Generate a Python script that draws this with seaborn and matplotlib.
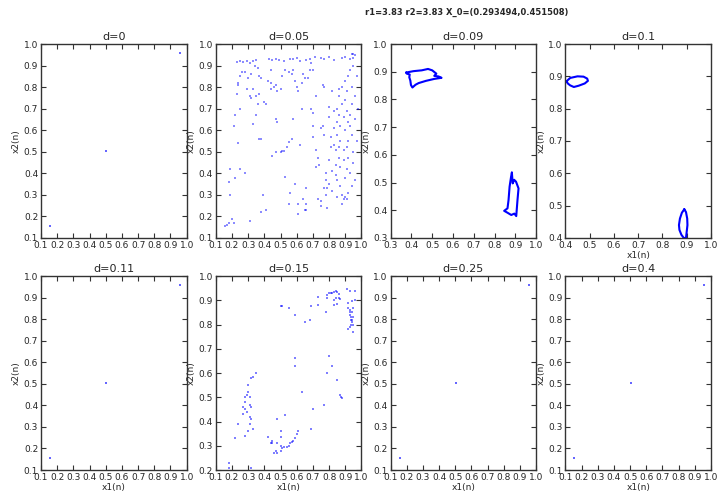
import numpy as np
import pandas as pd
import seaborn as sns
import matplotlib
matplotlib.use("Agg")
import matplotlib.pyplot as plt
from matplotlib.ticker import MultipleLocator, FormatStrFormatter

# period-3 orbit (synchronised cases)
sync_x = [0.156, 0.504, 0.957]
sync_y = [0.156, 0.504, 0.957]

# d=0.05 scattered points
d005_x = [0.23, 0.25, 0.27, 0.29, 0.31, 0.33, 0.35, 0.43, 0.45, 0.47, 0.49, 0.52, 0.56, 0.58,
          0.60, 0.62, 0.66, 0.68, 0.71, 0.75, 0.77, 0.80, 0.83, 0.88, 0.90, 0.93, 0.95,
          0.94, 0.95, 0.96,
          0.16, 0.17, 0.18, 0.20, 0.19, 0.18, 0.19, 0.21, 0.22, 0.24, 0.23, 0.24, 0.24, 0.25,
          0.26, 0.28, 0.25, 0.28, 0.25, 0.22, 0.21,
          0.31, 0.38, 0.39, 0.41, 0.33, 0.35, 0.36, 0.37, 0.38, 0.29, 0.31, 0.32, 0.33, 0.35,
          0.37, 0.37, 0.38, 0.30, 0.32, 0.34, 0.36, 0.40, 0.41, 0.42, 0.44, 0.44, 0.44, 0.46,
          0.47, 0.48, 0.47, 0.48, 0.45, 0.47, 0.50, 0.51, 0.52, 0.53, 0.54, 0.55, 0.56, 0.55,
          0.58, 0.57, 0.59, 0.61, 0.61, 0.62, 0.63, 0.64, 0.65, 0.66, 0.66, 0.66,
          0.50, 0.51, 0.53, 0.55, 0.57, 0.58, 0.59, 0.60, 0.61, 0.63, 0.64, 0.65, 0.67, 0.68,
          0.69, 0.70, 0.69, 0.70, 0.70, 0.70, 0.72, 0.72, 0.73, 0.74, 0.72, 0.73, 0.75, 0.75,
          0.76, 0.76, 0.77, 0.77, 0.77, 0.75, 0.78, 0.78, 0.78, 0.79, 0.79, 0.80, 0.80, 0.80,
          0.80, 0.81, 0.81, 0.82, 0.82, 0.82, 0.83, 0.83, 0.83, 0.84, 0.84, 0.84, 0.85, 0.85,
          0.85, 0.85, 0.85, 0.86, 0.86, 0.86, 0.86, 0.86, 0.87, 0.87, 0.87, 0.87, 0.88, 0.88,
          0.88, 0.88, 0.89, 0.89, 0.89, 0.89, 0.90, 0.90, 0.90, 0.90, 0.90, 0.91, 0.91, 0.91,
          0.91, 0.91, 0.92, 0.92, 0.92, 0.92, 0.92, 0.93, 0.93, 0.93, 0.93, 0.94, 0.94, 0.94,
          0.94, 0.95, 0.95, 0.95, 0.96, 0.96, 0.96, 0.97, 0.97, 0.98]
d005_y = [0.918, 0.92, 0.915, 0.92, 0.91, 0.92, 0.925, 0.93, 0.925, 0.93, 0.925, 0.92, 0.93, 0.93,
          0.935, 0.92, 0.925, 0.93, 0.94, 0.935, 0.93, 0.94, 0.925, 0.935, 0.94, 0.93, 0.935,
          0.955, 0.955, 0.95,
          0.155, 0.16, 0.17, 0.19, 0.30, 0.36, 0.42, 0.62, 0.67, 0.54, 0.77, 0.81, 0.82, 0.85,
          0.87, 0.87, 0.70, 0.40, 0.42, 0.38, 0.17,
          0.18, 0.22, 0.30, 0.23, 0.63, 0.67, 0.72, 0.56, 0.56, 0.79, 0.76, 0.75, 0.79, 0.76,
          0.77, 0.85, 0.84, 0.84, 0.86, 0.90, 0.89, 0.73, 0.72, 0.83, 0.82, 0.79, 0.88, 0.80,
          0.81, 0.78, 0.65, 0.64, 0.48, 0.50, 0.50, 0.505, 0.505, 0.385, 0.52, 0.545, 0.31, 0.26,
          0.65, 0.56, 0.35, 0.21, 0.26, 0.53, 0.70, 0.28, 0.23, 0.23, 0.33, 0.26,
          0.79, 0.85, 0.88, 0.87, 0.86, 0.88, 0.83, 0.80, 0.78, 0.82, 0.86, 0.84, 0.84, 0.88,
          0.91, 0.88, 0.70, 0.68, 0.57, 0.62, 0.76, 0.51, 0.47, 0.44, 0.43, 0.28, 0.27, 0.61,
          0.62, 0.81, 0.80, 0.58, 0.33, 0.25, 0.40, 0.37, 0.30, 0.24, 0.33, 0.35, 0.46, 0.71,
          0.66, 0.52, 0.57, 0.41, 0.32, 0.78, 0.69, 0.61, 0.53, 0.51, 0.44, 0.39, 0.29, 0.37,
          0.58, 0.64, 0.70, 0.76, 0.79, 0.67, 0.52, 0.47, 0.34, 0.43, 0.55, 0.62, 0.26, 0.30,
          0.72, 0.80, 0.46, 0.51, 0.66, 0.28, 0.29, 0.38, 0.60, 0.74, 0.83, 0.28, 0.42, 0.52,
          0.69, 0.78, 0.31, 0.47, 0.55, 0.64, 0.85, 0.62, 0.67, 0.40, 0.88, 0.34, 0.58, 0.72,
          0.80, 0.45, 0.50, 0.90, 0.65, 0.37, 0.76, 0.55, 0.85, 0.70]

# d=0.15 scattered points
d015_x = [0.27, 0.27, 0.28, 0.28, 0.29, 0.30, 0.30, 0.31, 0.31, 0.32, 0.31, 0.31, 0.32, 0.30,
          0.33, 0.32, 0.33, 0.35, 0.28, 0.24, 0.22, 0.18, 0.18, 0.32, 0.29, 0.28,
          0.42, 0.44, 0.45, 0.46, 0.47, 0.48, 0.48, 0.50, 0.50, 0.51, 0.52, 0.54, 0.55, 0.56,
          0.57, 0.58, 0.59, 0.60, 0.61, 0.50, 0.50, 0.53, 0.48, 0.45,
          0.59, 0.59, 0.63, 0.70, 0.69, 0.77, 0.79, 0.80, 0.82, 0.85, 0.87, 0.875, 0.88,
          0.50, 0.51, 0.55, 0.59, 0.65, 0.68, 0.69, 0.73, 0.73, 0.78, 0.79, 0.79, 0.80, 0.81,
          0.82, 0.83, 0.84, 0.85, 0.86, 0.84, 0.83, 0.86, 0.87, 0.83, 0.85, 0.91, 0.93, 0.92,
          0.92, 0.93, 0.93, 0.935, 0.94, 0.94, 0.93, 0.92, 0.94, 0.94, 0.96, 0.96, 0.95, 0.95,
          0.95, 0.945, 0.935, 0.935, 0.93]
d015_y = [0.43, 0.46, 0.48, 0.50, 0.51, 0.52, 0.55, 0.50, 0.47, 0.46, 0.42, 0.39, 0.41, 0.36,
          0.37, 0.58, 0.585, 0.60, 0.34, 0.39, 0.33, 0.23, 0.21, 0.21, 0.44, 0.45,
          0.335, 0.31, 0.32, 0.27, 0.28, 0.27, 0.31, 0.30, 0.28, 0.29, 0.295, 0.295, 0.30, 0.31,
          0.315, 0.32, 0.33, 0.35, 0.36, 0.335, 0.36, 0.425, 0.41, 0.31,
          0.66, 0.63, 0.52, 0.45, 0.37, 0.47, 0.60, 0.67, 0.63, 0.57, 0.51, 0.50, 0.495,
          0.875, 0.875, 0.87, 0.84, 0.81, 0.82, 0.875, 0.915, 0.88, 0.85, 0.91, 0.92, 0.93, 0.93,
          0.93, 0.935, 0.94, 0.935, 0.925, 0.91, 0.90, 0.91, 0.905, 0.88, 0.885, 0.945, 0.94, 0.89,
          0.87, 0.86, 0.84, 0.83, 0.82, 0.81, 0.79, 0.78, 0.85, 0.895, 0.94, 0.90, 0.87, 0.83,
          0.80, 0.77, 0.80, 0.82, 0.85]

# d=0.09 two closed curves
d009_a_x = [0.375, 0.41, 0.45, 0.48, 0.50, 0.52, 0.51, 0.53, 0.545, 0.51, 0.47, 0.435, 0.42,
            0.405, 0.398, 0.395, 0.39, 0.392, 0.378, 0.375]
d009_a_y = [0.897, 0.902, 0.905, 0.91, 0.905, 0.893, 0.885, 0.883, 0.878, 0.874, 0.867, 0.859,
            0.853, 0.843, 0.852, 0.868, 0.88, 0.89, 0.893, 0.897]
d009_b_x = [0.883, 0.887, 0.894, 0.903, 0.915, 0.91, 0.904, 0.895, 0.88, 0.86, 0.846, 0.862,
            0.867, 0.872, 0.879, 0.883]
d009_b_y = [0.536, 0.497, 0.51, 0.503, 0.479, 0.437, 0.379, 0.388, 0.383, 0.392, 0.398, 0.407,
            0.437, 0.485, 0.52, 0.536]

# d=0.1 two small loops
d010_a_x = [0.405, 0.42, 0.45, 0.475, 0.49, 0.493, 0.48, 0.455, 0.435, 0.42, 0.41, 0.405]
d010_a_y = [0.885, 0.895, 0.90, 0.899, 0.893, 0.886, 0.878, 0.871, 0.867, 0.872, 0.878, 0.885]
d010_b_x = [0.89, 0.897, 0.902, 0.903, 0.90, 0.897, 0.888, 0.878, 0.87, 0.868, 0.872, 0.88, 0.89]
d010_b_y = [0.489, 0.48, 0.46, 0.44, 0.42, 0.40, 0.40, 0.41, 0.425, 0.44, 0.46, 0.478, 0.489]

titles = ["d=0", "d=0.05", "d=0.09", "d=0.1", "d=0.11", "d=0.15", "d=0.25", "d=0.4"]
lows = [0.1, 0.1, 0.3, 0.4, 0.1, 0.1, 0.1, 0.1]
ylows = [0.1, 0.1, 0.3, 0.4, 0.1, 0.2, 0.1, 0.1]

sns.set_style("white", {"xtick.direction": "in", "ytick.direction": "in",
                        "xtick.top": True, "ytick.right": True,
                        "xtick.bottom": True, "ytick.left": True,
                        "axes.edgecolor": "#333333"})
plt.rcParams["font.family"] = ["DejaVu Sans"]
plt.rcParams["xtick.major.size"] = 3.5
plt.rcParams["ytick.major.size"] = 3.5

fig, axes = plt.subplots(2, 4, figsize=(7.17, 4.93), dpi=100)
plt.subplots_adjust(left=41 / 717, right=711 / 717, top=1 - 44 / 493, bottom=1 - 470 / 493,
                    wspace=0.2, hspace=0.196)
axes = axes.ravel()


def dots(ax, xs, ys, size, alpha):
    df = pd.DataFrame({"x1": xs, "x2": ys})
    sns.scatterplot(data=df, x="x1", y="x2", ax=ax, color="blue", marker="s",
                    s=size, linewidth=0, alpha=alpha)


def loop(ax, xs, ys):
    df = pd.DataFrame({"x1": xs, "x2": ys})
    sns.lineplot(data=df, x="x1", y="x2", ax=ax, sort=False, color="blue",
                 linewidth=1.5, estimator=None)


for i in [0, 4, 6, 7]:
    dots(axes[i], sync_x, sync_y, 2.5, 0.6)
dots(axes[1], d005_x, d005_y, 1.8, 0.45)
dots(axes[5], d015_x, d015_y, 1.8, 0.5)
loop(axes[2], d009_a_x, d009_a_y)
loop(axes[2], d009_b_x, d009_b_y)
loop(axes[3], d010_a_x, d010_a_y)
loop(axes[3], d010_b_x, d010_b_y)

for i, ax in enumerate(axes):
    ax.set_xlim(lows[i], 1.0)
    ax.set_ylim(ylows[i], 1.0)
    ax.xaxis.set_major_locator(MultipleLocator(0.1))
    ax.yaxis.set_major_locator(MultipleLocator(0.1))
    ax.xaxis.set_major_formatter(FormatStrFormatter("%.1f"))
    ax.yaxis.set_major_formatter(FormatStrFormatter("%.1f"))
    ax.tick_params(labelsize=6.5, pad=2, width=0.8, color="#333333")
    ax.set_title(titles[i], fontsize=8, pad=3)
    ax.set_ylabel("x2(n)", fontsize=6.5, labelpad=2)
    if i >= 3:
        ax.set_xlabel("x1(n)", fontsize=6.5, labelpad=1)
    else:
        ax.set_xlabel("")
    for sp in ax.spines.values():
        sp.set_linewidth(1.0)

fig.text(365 / 717, 1 - 12 / 493, "r1=3.83 r2=3.83 X_0=(0.293494,0.451508)",
         fontsize=6, fontweight="bold", va="center", ha="left")

plt.savefig("out.png", dpi=100)
